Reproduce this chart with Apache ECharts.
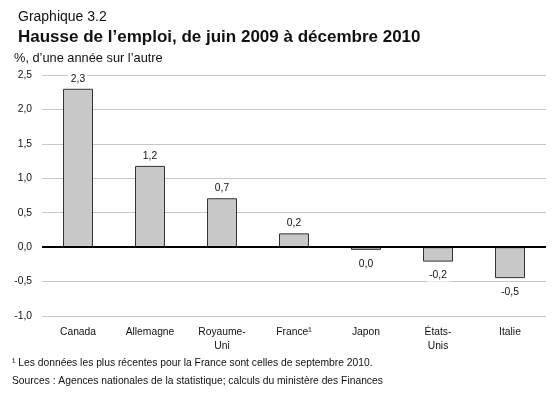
<!DOCTYPE html>
<html><head><meta charset="utf-8">
<script src="https://cdn.jsdelivr.net/npm/echarts@6/dist/echarts.min.js"></script>
<style>html,body{margin:0;padding:0;background:#fff}#c{width:560px;height:394px}</style>
</head><body><div id="c"></div>
<script>
var categories = ['Canada', 'Allemagne', 'Royaume-\nUni', 'France\u00b9', 'Japon', '\u00c9tats-\nUnis', 'Italie'];
var values = [2.3, 1.18, 0.71, 0.2, -0.04, -0.21, -0.45];
var displayLabels = ['2,3', '1,2', '0,7', '0,2', '0,0', '-0,2', '-0,5'];
var yTicks = [-1.0, -0.5, 0.0, 0.5, 1.0, 1.5, 2.0, 2.5];

var FONT = '"Liberation Sans", Arial, sans-serif';
var chart = echarts.init(document.getElementById('c'), null, {renderer: 'canvas'});
var seriesData = values.map(function (v) {
  return v < 0 ? {value: v, label: {position: 'bottom', distance: 8}} : v;
});
chart.setOption({
  animation: false,
  textStyle: {fontFamily: FONT},
  title: [
    {text: 'Graphique 3.2', left: 13, top: 5, textStyle: {fontFamily: FONT, fontSize: 14, fontWeight: 'normal', color: '#111'}},
    {text: 'Hausse de l\u2019emploi, de juin 2009 \u00e0 d\u00e9cembre 2010', left: 13, top: 24, textStyle: {fontFamily: FONT, fontSize: 17, fontWeight: 'bold', color: '#111'}},
    {text: '%, d\u2019une ann\u00e9e sur l\u2019autre', left: 9, top: 47, textStyle: {fontFamily: FONT, fontSize: 12.8, fontWeight: 'normal', color: '#111'}},
    {text: '\u00b9 Les donn\u00e9es les plus r\u00e9centes pour la France sont celles de septembre 2010.', left: 7, top: 353, textStyle: {fontFamily: FONT, fontSize: 10.3, fontWeight: 'normal', color: '#111'}},
    {text: 'Sources : Agences nationales de la statistique; calculs du minist\u00e8re des Finances', left: 7, top: 371, textStyle: {fontFamily: FONT, fontSize: 10.3, fontWeight: 'normal', color: '#111'}}
  ],
  grid: {left: 42, right: 14, top: 75, bottom: 78, containLabel: false},
  xAxis: {
    type: 'category', data: categories,
    axisLine: {show: false}, axisTick: {show: false},
    axisLabel: {fontFamily: FONT, fontSize: 10.3, color: '#111', margin: 9, lineHeight: 14, interval: 0}
  },
  yAxis: {
    type: 'value', min: yTicks[0], max: yTicks[yTicks.length - 1], interval: 0.5,
    axisLine: {show: false}, axisTick: {show: false},
    axisLabel: {fontFamily: FONT, fontSize: 10.3, color: '#111', margin: 10,
      formatter: function (v) { return v.toFixed(1).replace('.', ','); }},
    splitLine: {lineStyle: {color: '#c8c8c8', width: 1}}
  },
  series: [{
    type: 'bar', data: seriesData, barWidth: 30,
    itemStyle: {color: '#c8c8c8', borderColor: '#333', borderWidth: 1},
    label: {
      show: true, fontFamily: FONT, fontSize: 10.3, color: '#111',
      backgroundColor: '#fff', padding: [1, 3],
      position: 'top', distance: 4,
      formatter: function (p) { return displayLabels[p.dataIndex]; }
    },
    markLine: {
      silent: true, symbol: 'none', label: {show: false},
      lineStyle: {color: '#000', width: 2, type: 'solid'},
      data: [{yAxis: 0}]
    }
  }]
});
</script></body></html>
